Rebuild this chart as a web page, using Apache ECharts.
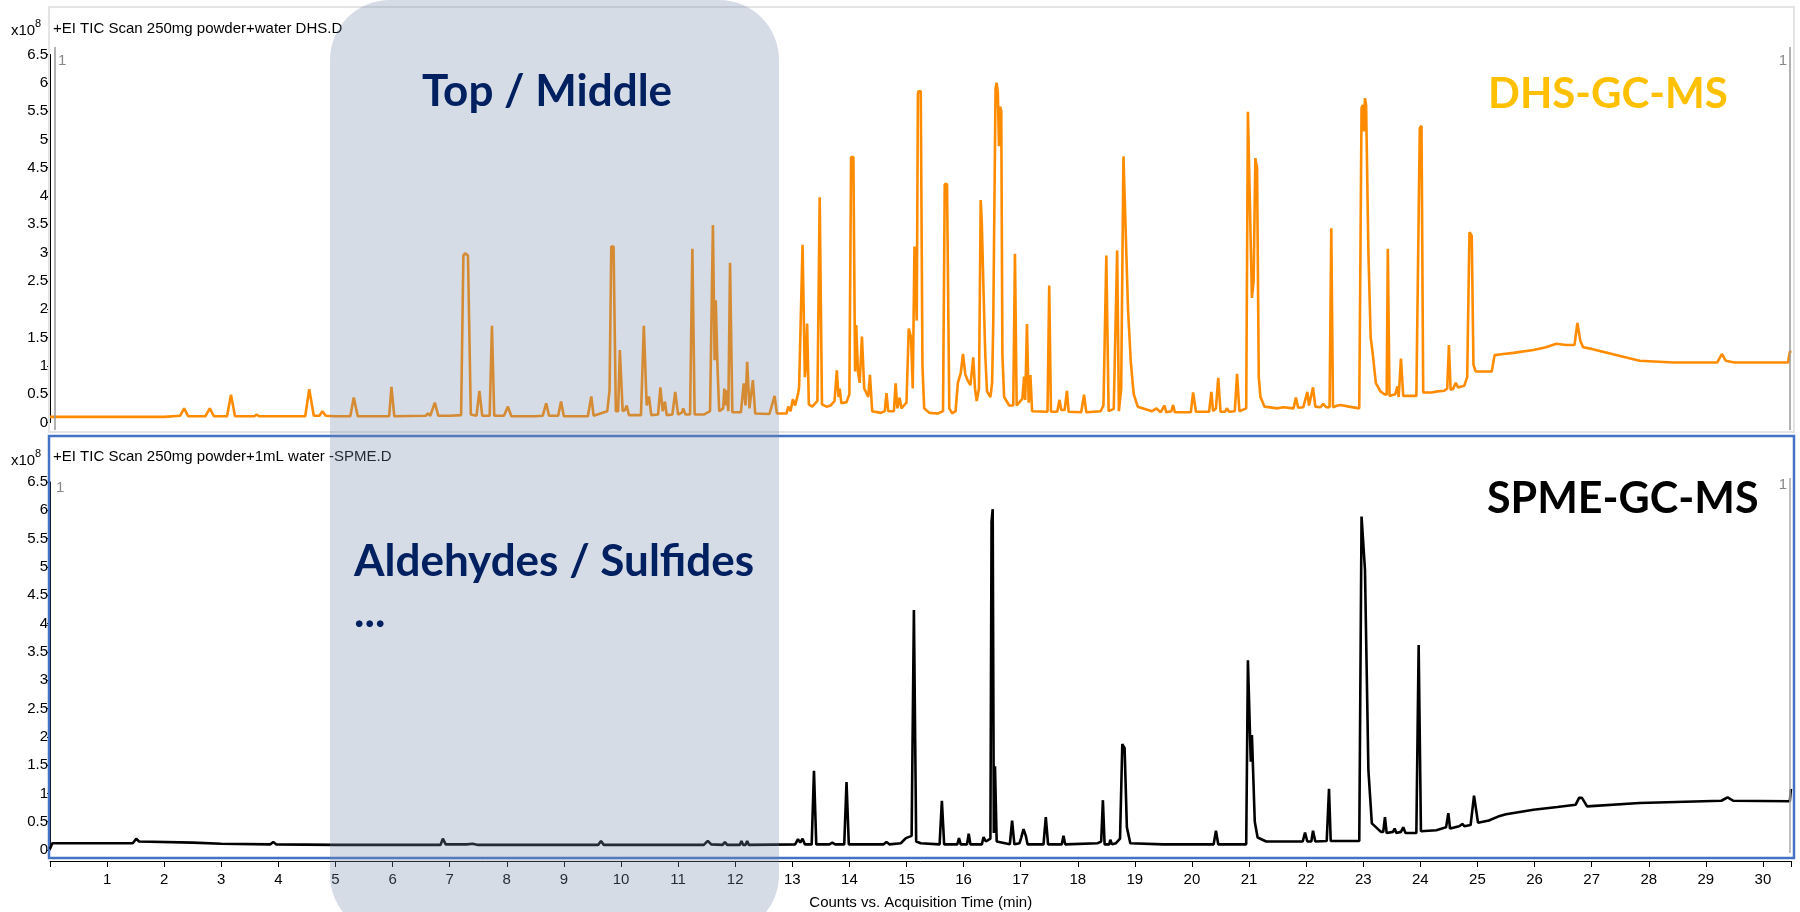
<!DOCTYPE html>
<html>
<head>
<meta charset="utf-8">
<title>DHS vs SPME chromatogram</title>
<script src="https://cdn.jsdelivr.net/npm/echarts@6/dist/echarts.min.js"></script>
<style>
  html, body { margin: 0; padding: 0; background: #fff; }
  #chart { width: 1800px; height: 912px; }
</style>
</head>
<body>
<div id="chart"></div>
<script>
// TIC traces: [time (min), counts x10^8]
var dhsTrace = [
  [0,0.1],[2.0,0.1],[2.28,0.12],[2.35,0.25],[2.42,0.11],[2.72,0.11],[2.80,0.25],[2.87,0.11],
  [3.1,0.11],[3.17,0.49],[3.24,0.11],[3.58,0.11],[3.62,0.14],[3.66,0.11],[3.78,0.11],[3.8,0.13],[3.83,0.11],
  [4.47,0.11],[4.54,0.59],[4.62,0.12],[4.72,0.12],[4.77,0.2],[4.83,0.12],[5.0,0.11],
  [5.26,0.11],[5.32,0.44],[5.39,0.11],[5.94,0.11],[5.98,0.63],[6.03,0.11],
  [6.58,0.12],[6.62,0.16],[6.66,0.12],[6.74,0.35],[6.8,0.12],[6.96,0.12],[6.98,0.15],[7.01,0.12],
  [7.2,0.13],[7.24,2.95],[7.27,2.99],[7.32,2.95],[7.37,0.14],[7.47,0.12],[7.52,0.56],[7.57,0.12],
  [7.7,0.12],[7.74,1.71],[7.78,0.12],[7.95,0.12],[8.02,0.28],[8.08,0.11],[8.5,0.11],
  [8.63,0.12],[8.69,0.34],[8.74,0.12],[8.9,0.12],[8.95,0.37],[9.0,0.11],
  [9.42,0.11],[9.48,0.46],[9.52,0.12],[9.76,0.2],[9.8,0.57],[9.83,3.11],[9.87,3.11],[9.91,0.2],
  [9.95,0.2],[9.98,1.28],[10.03,0.2],[10.07,0.22],[10.1,0.3],[10.14,0.13],
  [10.35,0.13],[10.4,1.71],[10.45,0.3],[10.49,0.46],[10.53,0.13],
  [10.65,0.14],[10.69,0.62],[10.73,0.2],[10.77,0.37],[10.8,0.13],[10.9,0.14],[10.95,0.54],[11.0,0.14],
  [11.07,0.18],[11.09,0.25],[11.13,0.14],[11.21,0.14],[11.25,3.07],[11.29,0.14],[11.45,0.14],
  [11.56,0.2],[11.61,3.49],[11.64,1.1],[11.66,2.16],[11.69,1.0],[11.72,0.2],
  [11.79,0.25],[11.81,0.6],[11.83,0.3],[11.85,0.57],[11.88,0.2],[11.91,2.82],[11.95,0.18],
  [12.1,0.18],[12.15,0.69],[12.18,0.3],[12.21,1.07],[12.25,0.25],[12.31,0.75],[12.35,0.16],
  [12.6,0.15],[12.69,0.47],[12.73,0.16],[12.9,0.16],[12.93,0.28],[12.97,0.2],[13.01,0.41],[13.05,0.3],
  [13.1,0.5],[13.12,0.63],[13.15,0.6],[13.18,3.14],[13.22,0.8],[13.24,1.0],[13.26,1.75],[13.29,0.32],
  [13.35,0.28],[13.44,0.38],[13.48,3.98],[13.52,0.32],[13.6,0.28],[13.67,0.3],
  [13.74,0.38],[13.78,0.92],[13.81,0.45],[13.83,0.6],[13.86,0.34],
  [13.95,0.36],[14.0,0.5],[14.03,4.69],[14.07,4.69],[14.1,0.9],[14.12,1.72],[14.15,0.9],[14.18,0.7],[14.22,1.52],[14.26,0.6],
  [14.33,0.45],[14.36,0.84],[14.4,0.2],[14.55,0.17],[14.62,0.2],[14.65,0.52],[14.68,0.2],
  [14.78,0.2],[14.81,0.69],[14.84,0.25],[14.88,0.44],[14.91,0.25],
  [15.0,0.35],[15.04,1.66],[15.08,1.5],[15.11,0.6],[15.14,3.11],[15.16,3.11],[15.18,1.8],
  [15.2,5.8],[15.21,5.85],[15.25,5.85],[15.28,1.0],[15.31,0.25],[15.4,0.17],[15.55,0.16],
  [15.64,0.2],[15.67,4.21],[15.71,4.21],[15.75,0.25],[15.8,0.16],[15.86,0.2],
  [15.9,0.7],[15.95,0.87],[15.99,1.21],[16.03,0.85],[16.07,0.75],[16.12,0.66],[16.17,1.15],[16.2,0.6],[16.23,0.38],
  [16.27,0.6],[16.3,3.93],[16.32,3.5],[16.35,2.3],[16.38,1.2],[16.41,0.55],[16.47,0.45],
  [16.5,0.7],[16.52,1.78],[16.54,1.8],[16.56,5.9],[16.58,6.0],[16.6,5.82],[16.62,4.88],[16.64,5.58],[16.66,5.5],[16.68,1.2],[16.71,0.45],
  [16.8,0.3],[16.87,0.3],[16.9,2.98],[16.93,0.3],[16.98,0.36],
  [17.03,0.42],[17.06,0.81],[17.08,0.4],[17.11,1.74],[17.14,0.35],[17.17,0.84],[17.2,0.2],
  [17.47,0.19],[17.5,2.42],[17.53,0.19],[17.64,0.19],[17.68,0.4],[17.71,0.22],[17.77,0.22],[17.81,0.56],[17.84,0.19],
  [18.06,0.18],[18.11,0.49],[18.15,0.18],[18.4,0.2],[18.45,0.3],[18.5,2.95],[18.54,0.2],
  [18.63,0.24],[18.69,3.04],[18.72,0.2],[18.76,0.6],[18.8,4.7],[18.83,4.71],[18.88,2.0],[18.93,1.05],[18.98,0.5],[19.05,0.28],
  [19.3,0.2],[19.38,0.25],[19.45,0.18],[19.52,0.3],[19.55,0.18],[19.64,0.2],[19.67,0.31],[19.7,0.18],
  [19.98,0.18],[20.02,0.53],[20.07,0.19],[20.3,0.19],[20.34,0.54],[20.37,0.2],[20.42,0.25],[20.46,0.79],[20.5,0.19],
  [20.58,0.19],[20.61,0.25],[20.65,0.19],[20.75,0.2],[20.79,0.86],[20.83,0.2],
  [20.95,0.25],[20.98,5.49],[21.01,5.49],[21.05,2.2],[21.08,2.5],[21.11,4.67],[21.14,4.5],[21.17,0.8],[21.2,0.45],[21.27,0.28],
  [21.5,0.25],[21.6,0.27],[21.78,0.25],[21.82,0.44],[21.86,0.26],
  [21.95,0.27],[22.02,0.54],[22.05,0.3],[22.12,0.62],[22.16,0.28],[22.25,0.27],[22.3,0.33],[22.35,0.27],
  [22.41,0.27],[22.44,3.43],[22.47,0.27],[22.55,0.3],[22.6,0.31],[22.75,0.28],[22.93,0.25],
  [22.97,5.55],[22.99,5.61],[23.01,5.14],[23.03,5.73],[23.05,5.6],[23.09,3.0],[23.13,1.5],[23.16,1.27],[23.22,0.7],[23.3,0.55],[23.37,0.5],
  [23.41,0.49],[23.43,3.07],[23.46,0.47],[23.56,0.5],[23.6,0.64],[23.62,0.45],[23.66,1.13],[23.7,0.47],
  [23.93,0.47],[23.99,5.2],[24.02,5.24],[24.05,0.53],[24.2,0.53],[24.3,0.55],[24.42,0.56],[24.47,0.6],[24.5,1.37],[24.53,0.58],
  [24.57,0.59],[24.62,0.7],[24.66,0.62],[24.77,0.65],[24.82,0.8],[24.86,3.36],[24.9,3.3],[24.93,1.02],[24.97,0.9],
  [25.25,0.9],[25.3,1.19],[25.45,1.21],[25.63,1.23],[25.98,1.28],[26.2,1.33],[26.38,1.39],[26.55,1.37],[26.7,1.37],
  [26.75,1.76],[26.8,1.45],[26.85,1.33],[27.0,1.3],[27.32,1.22],[27.84,1.09],[28.43,1.06],[29.2,1.06],
  [29.28,1.21],[29.35,1.09],[29.5,1.06],[30.44,1.06],[30.47,1.25],[30.5,1.25]
];

var spmeTrace = [
  [0,0.02],[0.04,0.12],[1.45,0.12],[1.51,0.2],[1.56,0.15],[2.5,0.13],[3.0,0.11],[3.86,0.1],[3.91,0.14],[3.96,0.1],
  [5.0,0.09],[5.47,0.09],[5.5,0.11],[5.53,0.09],[6.84,0.09],[6.88,0.2],[6.93,0.1],[7.3,0.1],[7.4,0.11],[7.5,0.09],
  [9.6,0.09],[9.65,0.16],[9.7,0.09],[10.25,0.09],[10.28,0.12],[10.31,0.09],
  [11.45,0.09],[11.52,0.16],[11.58,0.1],[11.78,0.09],[11.82,0.14],[11.86,0.09],
  [12.08,0.09],[12.11,0.16],[12.14,0.09],[12.18,0.09],[12.21,0.16],[12.24,0.09],
  [13.05,0.1],[13.1,0.19],[13.14,0.13],[13.18,0.2],[13.22,0.1],[13.34,0.1],[13.38,1.4],[13.42,0.1],
  [13.65,0.1],[13.7,0.13],[13.75,0.1],[13.91,0.1],[13.95,1.2],[13.99,0.1],
  [14.5,0.1],[14.52,0.12],[14.6,0.1],[14.65,0.14],[14.7,0.1],[14.9,0.12],[14.99,0.21],
  [15.09,0.25],[15.13,4.24],[15.17,0.15],[15.25,0.12],[15.58,0.1],[15.62,0.87],[15.66,0.1],
  [15.89,0.1],[15.92,0.21],[15.95,0.1],[16.06,0.1],[16.09,0.29],[16.12,0.1],
  [16.32,0.1],[16.35,0.23],[16.39,0.15],[16.47,0.2],[16.49,5.8],[16.51,6.02],[16.53,0.3],[16.55,1.48],[16.58,0.15],
  [16.81,0.1],[16.85,0.52],[16.89,0.1],[16.98,0.12],[17.01,0.22],[17.05,0.37],[17.09,0.25],[17.12,0.1],
  [17.4,0.1],[17.44,0.58],[17.48,0.1],[17.72,0.1],[17.75,0.25],[17.78,0.1],
  [18.35,0.12],[18.41,0.15],[18.44,0.88],[18.47,0.1],[18.55,0.1],[18.57,0.18],[18.6,0.1],[18.67,0.12],
  [18.74,0.2],[18.78,1.87],[18.82,1.8],[18.86,0.4],[18.92,0.12],[19.5,0.1],
  [20.38,0.1],[20.42,0.34],[20.46,0.1],[20.95,0.1],[20.98,3.35],[21.0,3.35],[21.03,1.56],[21.05,2.03],[21.07,2.0],[21.1,0.5],[21.15,0.22],[21.3,0.15],
  [21.94,0.15],[21.98,0.31],[22.02,0.15],[22.09,0.15],[22.12,0.34],[22.16,0.15],
  [22.36,0.16],[22.4,1.08],[22.43,0.16],[22.93,0.16],
  [22.97,5.89],[22.99,5.89],[23.03,4.95],[23.06,3.18],[23.09,1.41],[23.15,0.47],[23.31,0.32],
  [23.35,0.32],[23.38,0.58],[23.41,0.3],[23.52,0.32],[23.55,0.38],[23.58,0.3],[23.66,0.32],[23.7,0.4],[23.74,0.3],
  [23.93,0.3],[23.97,3.62],[24.01,0.33],[24.28,0.35],[24.45,0.4],[24.49,0.65],[24.52,0.38],
  [24.68,0.42],[24.74,0.46],[24.77,0.42],[24.88,0.44],[24.94,0.96],[25.01,0.48],
  [25.2,0.52],[25.36,0.59],[25.5,0.63],[25.98,0.71],[26.4,0.76],[26.72,0.8],[26.78,0.92],[26.83,0.92],[26.92,0.77],
  [27.84,0.83],[29.27,0.87],[29.38,0.93],[29.48,0.87],[30.47,0.86],[30.49,1.08],[30.5,1.08]
];

var panelTitles = ['+EI TIC Scan 250mg powder+water DHS.D', '+EI TIC Scan 250mg powder+1mL water -SPME.D'];
var methodNames = ['DHS-GC-MS', 'SPME-GC-MS'];
var regionNotes = ['Top / Middle', 'Aldehydes / Sulfides', '...'];
var xName = 'Counts vs. Acquisition Time (min)';

var chart = echarts.init(document.getElementById('chart'));

var axFont = 'Liberation Sans, Arial, sans-serif';
var bigFont = 'Lato, Open Sans, sans-serif';

function yAx(grid){
  return {
    type: 'value', gridIndex: grid, min: 0, max: 6.5, interval: 0.5,
    axisLine: {show: true, lineStyle: {color: '#000', width: 1}},
    axisTick: {show: true, length: 3, lineStyle: {color: '#000'}},
    axisLabel: {color: '#000', fontSize: 15, fontFamily: axFont, margin: 2},
    splitLine: {show: false}
  };
}

function txt(x, y, s, font, color, align, z){
  return {
    type: 'text', x: x, y: y, z: z || 10,
    style: {text: s, font: font, fill: color, align: align || 'left', textAlign: align || 'left',
            verticalAlign: 'middle', textVerticalAlign: 'middle'}
  };
}
function vline(x, y1, y2, color, w){
  return {type: 'line', z: 5, shape: {x1: x, y1: y1, x2: x, y2: y2}, style: {stroke: color, lineWidth: w}};
}

var option = {
  animation: false,
  backgroundColor: '#fff',
  grid: [
    {left: 50, right: 8.5, top: 54.5, height: 368},
    {left: 50, right: 8.5, top: 482, height: 368}
  ],
  xAxis: [
    {type: 'value', gridIndex: 0, min: 0, max: 30.5, interval: 1, show: false},
    {
      type: 'value', gridIndex: 1, min: 0, max: 30.5, interval: 1, offset: 11,
      axisLine: {show: true, onZero: false, lineStyle: {color: '#000', width: 1}},
      axisTick: {show: true, length: 6, lineStyle: {color: '#000'}},
      axisLabel: {
        color: '#000', fontSize: 15, fontFamily: axFont, margin: 11,
        formatter: function(v){ return (v > 0 && v % 1 === 0) ? String(v) : ''; }
      },
      splitLine: {show: false},
      name: xName, nameLocation: 'middle', nameGap: 34,
      nameTextStyle: {color: '#000', fontSize: 15, fontFamily: axFont}
    }
  ],
  yAxis: [yAx(0), yAx(1)],
  series: [
    {
      type: 'line', xAxisIndex: 0, yAxisIndex: 0, data: dhsTrace,
      showSymbol: false, symbol: 'none', smooth: false,
      lineStyle: {color: '#ff8c00', width: 2.6}
    },
    {
      type: 'line', xAxisIndex: 1, yAxisIndex: 1, data: spmeTrace,
      showSymbol: false, symbol: 'none', smooth: false,
      lineStyle: {color: '#000', width: 2.6}
    }
  ],
  graphic: [
    // panel frames
    {type: 'rect', z: 1, shape: {x: 49, y: 7, width: 1745, height: 425}, style: {fill: 'none', stroke: '#e4e4e4', lineWidth: 2}},
    {type: 'rect', z: 1, shape: {x: 49, y: 436, width: 1745, height: 422}, style: {fill: 'none', stroke: '#4472c4', lineWidth: 2.5}},
    vline(55, 47, 430, '#999', 1.5),
    vline(1790, 47, 430, '#999', 1.5),
    vline(1790, 478, 853, '#aaa', 1.5),
    txt(58, 61, '1', '15px ' + axFont, '#888'),
    txt(1787, 61, '1', '15px ' + axFont, '#888', 'right'),
    txt(56, 488, '1', '15px ' + axFont, '#888'),
    txt(1787, 485, '1', '15px ' + axFont, '#888', 'right'),
    // scale labels and trace titles
    txt(11, 31, 'x10', '15px ' + axFont, '#000'),
    txt(35, 24, '8', '11px ' + axFont, '#000'),
    txt(11, 461, 'x10', '15px ' + axFont, '#000'),
    txt(35, 454, '8', '11px ' + axFont, '#000'),
    txt(53, 29, panelTitles[0], '15px ' + axFont, '#000'),
    txt(53, 457, panelTitles[1], '15px ' + axFont, '#000'),
    // highlighted retention window
    {type: 'rect', z: 50, shape: {x: 330, y: 0, width: 449, height: 935, r: 60}, style: {fill: 'rgba(115,138,172,0.3)'}},
    txt(422, 92, regionNotes[0], 'bold 44px ' + bigFont, '#002060', 'left', 60),
    txt(354, 562, regionNotes[1], 'bold 44px ' + bigFont, '#002060', 'left', 60),
    txt(354, 613, regionNotes[2], 'bold 44px ' + bigFont, '#002060', 'left', 60),
    txt(1488, 94, methodNames[0], 'bold 42px ' + bigFont, '#ffc000', 'left', 60),
    txt(1487, 499, methodNames[1], 'bold 43px ' + bigFont, '#000', 'left', 60)
  ]
};

chart.setOption(option);
</script>
</body>
</html>
